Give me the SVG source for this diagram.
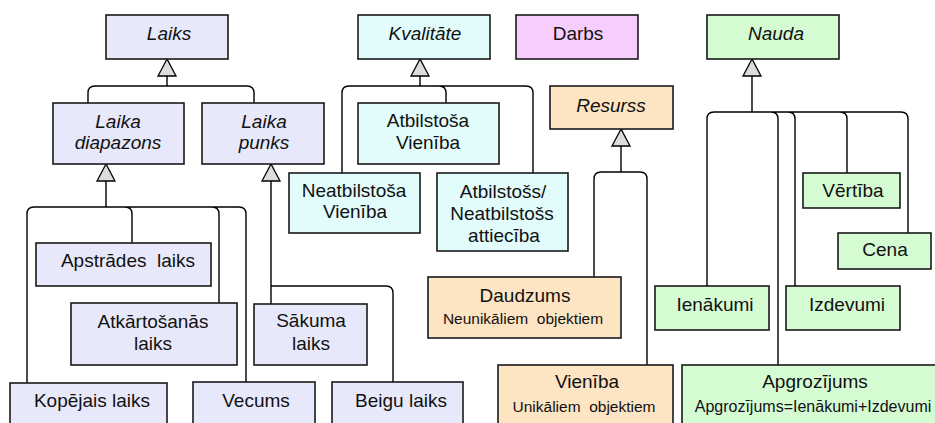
<svg xmlns="http://www.w3.org/2000/svg" width="935" height="423" viewBox="0 0 935 423">
<style>
.b{stroke:#1a1a1a;stroke-width:1.6}
.lav{fill:#e8e8fb}.cy{fill:#e2fcfc}.pk{fill:#f6cdfd}.pe{fill:#fde4c2}.gr{fill:#d5fbd3}
text{font-family:"Liberation Sans",Arial,Helvetica,sans-serif;font-size:19px;fill:#111;text-anchor:middle}
.i{font-style:italic}
.s{font-size:16px}
.s2{font-size:15.5px}
#conn path{fill:none;stroke:#000;stroke-width:1.4}
</style>
<defs>
<polygon id="tri" points="0,0 -9,17 9,17" fill="#dcdcdc" stroke="#000" stroke-width="1.3"/>
</defs>
<rect width="935" height="423" fill="#fff"/>
<g id="conn">
<path d="M167,76 V86 M167,86 H95 Q88,86 88,93 V103 M167,86 H247 Q254,86 254,93 V103"/>
<path d="M106,181 V207 M106,207 H34 Q27,207 27,214 V383 M106,207 H125 Q132,207 132,214 V243 M106,207 H212 Q219,207 219,214 V303 M106,207 H239 Q246,207 246,214 V382"/>
<path d="M271,181 V304 M271,286 H386 Q393,286 393,293 V382"/>
<path d="M420,76 V86 M420,86 H349 Q342,86 342,93 V173 M420,86 H439 Q446,86 446,93 V103 M420,86 H526 Q533,86 533,93 V173"/>
<path d="M621,146 V172 M621,172 H601 Q594,172 594,179 V277 M621,172 H640 Q647,172 647,179 V365"/>
<path d="M752,76 V112 M752,112 H714 Q707,112 707,119 V286 M752,112 H771 Q778,112 778,119 V365 M752,112 H788 Q795,112 795,119 V286 M752,112 H840 Q847,112 847,119 V173 M752,112 H901 Q908,112 908,119 V233"/>
<use href="#tri" x="167" y="59"/>
<use href="#tri" x="106" y="164"/>
<use href="#tri" x="271" y="164"/>
<use href="#tri" x="420" y="59"/>
<use href="#tri" x="621" y="129"/>
<use href="#tri" x="752" y="59"/>
</g>
<g id="laiks"><rect class="b lav" x="106" y="15" width="122" height="44"/><text class="i" x="169" y="40">Laiks</text></g>
<g id="laika-diapazons"><rect class="b lav" x="53" y="103" width="131" height="61"/><text class="i" x="118" y="128">Laika</text><text class="i" x="118" y="149">diapazons</text></g>
<g id="laika-punks"><rect class="b lav" x="202" y="103" width="122" height="61"/><text class="i" x="264" y="128">Laika</text><text class="i" x="264" y="149">punks</text></g>
<g id="apstrades"><rect class="b lav" x="36" y="243" width="175" height="43"/><text x="128" y="267" xml:space="preserve">Apstrādes  laiks</text></g>
<g id="atkartosanas"><rect class="b lav" x="71" y="303" width="166" height="62"/><text x="153" y="328">Atkārtošanās</text><text x="153" y="350">laiks</text></g>
<g id="sakuma"><rect class="b lav" x="254" y="304" width="113" height="61"/><text x="311" y="327">Sākuma</text><text x="311" y="350">laiks</text></g>
<g id="kopejais"><rect class="b lav" x="10" y="383" width="157" height="50"/><text x="92" y="407">Kopējais laiks</text></g>
<g id="vecums"><rect class="b lav" x="193" y="382" width="122" height="50"/><text x="256" y="407">Vecums</text></g>
<g id="beigu"><rect class="b lav" x="332" y="382" width="131" height="50"/><text x="401" y="407">Beigu laiks</text></g>
<g id="kvalitate"><rect class="b cy" x="358" y="15" width="132" height="44"/><text class="i" x="425" y="40">Kvalitāte</text></g>
<g id="atbilstosa"><rect class="b cy" x="358" y="103" width="141" height="61"/><text x="428" y="127">Atbilstoša</text><text x="428" y="149">Vienība</text></g>
<g id="neatbilstosa"><rect class="b cy" x="289" y="173" width="131" height="60"/><text x="354" y="197">Neatbilstoša</text><text x="355" y="218">Vienība</text></g>
<g id="attieciba"><rect class="b cy" x="437" y="173" width="131" height="78"/><text x="503" y="198">Atbilstošs/</text><text x="502" y="220">Neatbilstošs</text><text x="504" y="242">attiecība</text></g>
<g id="darbs"><rect class="b pk" x="516" y="15" width="122" height="44"/><text x="578" y="40">Darbs</text></g>
<g id="resurss"><rect class="b pe" x="550" y="86" width="123" height="43"/><text class="i" x="611" y="112">Resurss</text></g>
<g id="daudzums"><rect class="b pe" x="428" y="277" width="193" height="61"/><text x="525" y="302">Daudzums</text><text class="s2" x="523" y="324" xml:space="preserve">Neunikāliem  objektiem</text></g>
<g id="vieniba"><rect class="b pe" x="498" y="365" width="175" height="70"/><text x="587" y="388">Vienība</text><text class="s2" x="584" y="412" xml:space="preserve">Unikāliem  objektiem</text></g>
<g id="nauda"><rect class="b gr" x="707" y="15" width="132" height="44"/><text class="i" x="776" y="40">Nauda</text></g>
<g id="vertiba"><rect class="b gr" x="803" y="173" width="97" height="35"/><text x="853" y="197">Vērtība</text></g>
<g id="cena"><rect class="b gr" x="838" y="233" width="93" height="36"/><text x="885" y="256">Cena</text></g>
<g id="ienakumi"><rect class="b gr" x="655" y="286" width="114" height="44"/><text x="715" y="311">Ienākumi</text></g>
<g id="izdevumi"><rect class="b gr" x="786" y="286" width="114" height="44"/><text x="847" y="311">Izdevumi</text></g>
<g id="apgrozijums"><rect class="b gr" x="682" y="365" width="260" height="70"/><text x="815" y="388">Apgrozījums</text><text class="s" x="813" y="412">Apgrozījums=Ienākumi+Izdevumi</text></g>
</svg>
